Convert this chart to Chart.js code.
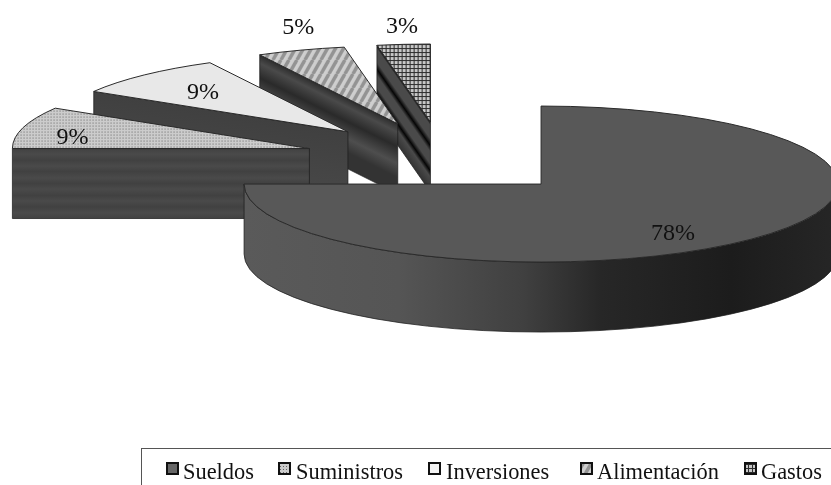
<!DOCTYPE html>
<html>
<head>
<meta charset="utf-8">
<title>Gastos</title>
<style>
    html, body { margin: 0; padding: 0; background: #fff; }
    canvas { display: block; }
</style>
<script src="https://cdn.jsdelivr.net/npm/chart.js@4"></script>
</head>
<body>
<canvas id="pie-gastos" width="831" height="485"></canvas>
<script>
const categorias = ['Sueldos', 'Suministros', 'Inversiones', 'Alimentación', 'Gastos'];
const porcentajes = [78, 9, 9, 5, 3];

// shape of the pie
const centro = { x: 443, y: 158.3 };
const radioX = 297;
const radioY = 78;
const altura = 70;
const separacion = 0.467;

// percent labels, relative to the tip of each slice (x = centre of text, y = baseline)
const etiquetaX = [132, -237, -145, -99.5, -28.5];
const etiquetaY = [56, -5, -33, -89.5, -89];

// legend layout
const leyendaX = [166, 278, 428, 580, 744];
const leyendaTextoX = [183, 296, 446, 597, 761];

function trama(w, h, pinta) {
    const c = document.createElement('canvas');
    c.width = w;
    c.height = h;
    pinta(c.getContext('2d'));
    return c.getContext('2d').createPattern(c, 'repeat');
}

function puntos() {
    return trama(3, 3, g => {
        g.fillStyle = '#cccccc';
        g.fillRect(0, 0, 3, 3);
        g.fillStyle = '#646464';
        g.fillRect(1, 1, 1, 1);
    });
}

function rayas() {
    return trama(8, 14, g => {
        g.fillStyle = '#cfcfcf';
        g.fillRect(0, 0, 8, 14);
        g.strokeStyle = '#939393';
        g.lineWidth = 3.5;
        [-8, 0, 8].forEach(o => {
            g.beginPath();
            g.moveTo(o, 14);
            g.lineTo(o + 8, 0);
            g.stroke();
        });
    });
}

function rejilla() {
    return trama(4, 4, g => {
        g.fillStyle = '#c8c8c8';
        g.fillRect(0, 0, 4, 4);
        g.fillStyle = '#2c2c2c';
        g.fillRect(0, 0, 4, 1);
        g.fillRect(0, 0, 1, 4);
    });
}

const tapas = ['#585858', puntos(), '#e8e8e8', rayas(), rejilla()];
const muestras = ['#666666', puntos(), '#f4f4f4', rayas(), rejilla()];

// shading of the straight side walls, 0 = top edge, 1 = bottom edge
const paredes = [
    null,
    [[0, '#424242'], [0.08, '#4a4a4a'], [0.17, '#414141'], [0.25, '#4a4a4a'], [0.33, '#414141'], [0.42, '#4a4a4a'],
     [0.5, '#414141'], [0.58, '#4a4a4a'], [0.67, '#414141'], [0.75, '#4a4a4a'], [0.83, '#414141'], [0.92, '#4a4a4a'], [1, '#414141']],
    [[0, '#404040'], [1, '#484848']],
    [[0, '#2e2e2e'], [0.12, '#4a4a4a'], [0.33, '#2a2a2a'], [0.57, '#4e4e4e'], [0.77, '#333333'], [1, '#333333']],
    [[0, '#101010'], [0.05, '#4a4a4a'], [0.24, '#4a4a4a'], [0.34, '#050505'], [0.43, '#4a4a4a'], [0.6, '#4a4a4a'], [0.7, '#050505'], [0.79, '#4a4a4a'], [1, '#333333']]
];

// outer wall of the big slice, left to right
const paredCurva = [[0, '#5a5a5a'], [0.26, '#555555'], [0.47, '#404040'], [0.6, '#272727'], [0.82, '#1c1c1c'], [1, '#262626']];

function rebanada(arc) {
    const medio = (arc.startAngle + arc.endAngle) / 2;
    return {
        a0: arc.startAngle,
        a1: arc.endAngle,
        x: centro.x + radioX * separacion * Math.cos(medio),
        y: centro.y + radioY * separacion * Math.sin(medio)
    };
}

function sobreElipse(r, a) {
    return { x: r.x + radioX * Math.cos(a), y: r.y + radioY * Math.sin(a) };
}

function gradiente(ctx, x0, y0, x1, y1, paradas) {
    const g = ctx.createLinearGradient(x0, y0, x1, y1);
    paradas.forEach(p => g.addColorStop(p[0], p[1]));
    return g;
}

function paredRecta(ctx, r, a, paradas) {
    const p = sobreElipse(r, a);
    const dx = p.x - r.x;
    const dy = p.y - r.y;
    const largo = Math.hypot(dx, dy);
    let nx = -dy / largo;
    let ny = dx / largo;
    if (ny < 0) { nx = -nx; ny = -ny; }
    const dist = altura * ny;
    ctx.beginPath();
    ctx.moveTo(r.x, r.y);
    ctx.lineTo(p.x, p.y);
    ctx.lineTo(p.x, p.y + altura);
    ctx.lineTo(r.x, r.y + altura);
    ctx.closePath();
    ctx.fillStyle = gradiente(ctx, r.x, r.y, r.x + nx * dist, r.y + ny * dist, paradas);
    ctx.fill();
    ctx.stroke();
}

function paredExterior(ctx, r, desde, hasta) {
    ctx.beginPath();
    ctx.ellipse(r.x, r.y, radioX, radioY, 0, desde, hasta);
    ctx.ellipse(r.x, r.y + altura, radioX, radioY, 0, hasta, desde, true);
    ctx.closePath();
    ctx.fillStyle = gradiente(ctx, r.x - radioX, 0, r.x + radioX, 0, paredCurva);
    ctx.fill();
    ctx.stroke();
}

// flattens the pie and gives each slice its walls, back slices first
const pie3d = {
    id: 'pie3d',
    beforeDatasetsDraw(chart) {
        const ctx = chart.ctx;
        const arcos = chart.getDatasetMeta(0).data;
        const sx = radioX / arcos[0].outerRadius;
        const sy = radioY / arcos[0].outerRadius;
        // keep the fill patterns at one pixel per pixel once the arc is squashed
        tapas.forEach(t => {
            if (t instanceof CanvasPattern) t.setTransform(new DOMMatrix([1 / sx, 0, 0, 1 / sy, 0, 0]));
        });

        for (let i = arcos.length - 1; i >= 0; i--) {
            const arc = arcos[i];
            const r = rebanada(arc);
            ctx.save();
            ctx.lineWidth = 1;
            ctx.strokeStyle = 'rgba(30,30,30,0.75)';
            if (Math.cos(r.a0) < -1e-6) paredRecta(ctx, r, r.a0, paredes[i]);
            if (Math.cos(r.a1) > 1e-6) paredRecta(ctx, r, r.a1, paredes[i]);
            const desde = Math.max(r.a0, 0);
            const hasta = Math.min(r.a1, Math.PI);
            if (desde < hasta) paredExterior(ctx, r, desde, hasta);
            ctx.restore();

            ctx.save();
            ctx.translate(r.x, r.y);
            ctx.scale(sx, sy);
            ctx.translate(-arc.x, -arc.y);
            arc.draw(ctx);
            ctx.restore();

            // outline in plain pixels so its width is even all the way round
            ctx.save();
            ctx.lineWidth = 1;
            ctx.strokeStyle = '#2a2a2a';
            ctx.beginPath();
            ctx.moveTo(r.x, r.y);
            ctx.ellipse(r.x, r.y, radioX, radioY, 0, r.a0, r.a1);
            ctx.closePath();
            ctx.stroke();
            ctx.restore();
        }
        return false;
    }
};

// percent labels on top of the slices
const etiquetas = {
    id: 'etiquetas',
    afterDraw(chart) {
        const ctx = chart.ctx;
        ctx.save();
        ctx.fillStyle = '#111';
        ctx.font = '24px "Liberation Serif"';
        ctx.textAlign = 'center';
        ctx.textBaseline = 'alphabetic';
        chart.getDatasetMeta(0).data.forEach((arc, i) => {
            const r = rebanada(arc);
            ctx.fillText(porcentajes[i] + '%', r.x + etiquetaX[i], r.y + etiquetaY[i]);
        });
        ctx.restore();
    }
};

// boxed legend along the bottom edge
const leyenda = {
    id: 'leyenda',
    afterDraw(chart) {
        const ctx = chart.ctx;
        ctx.save();
        ctx.strokeStyle = '#555';
        ctx.lineWidth = 1;
        ctx.strokeRect(141.5, 448.5, 800, 60);
        ctx.font = '22.4px "Liberation Serif"';
        ctx.textAlign = 'left';
        ctx.textBaseline = 'alphabetic';
        categorias.forEach((nombre, i) => {
            ctx.fillStyle = muestras[i];
            ctx.fillRect(leyendaX[i], 462, 13, 13);
            ctx.strokeStyle = '#111';
            ctx.lineWidth = 2;
            ctx.strokeRect(leyendaX[i] + 1, 463, 11, 11);
            ctx.fillStyle = '#111';
            ctx.fillText(nombre, leyendaTextoX[i], 479);
        });
        ctx.restore();
    }
};

new Chart(document.getElementById('pie-gastos').getContext('2d'), {
    type: 'pie',
    data: {
        labels: categorias,
        datasets: [{
            data: porcentajes,
            backgroundColor: tapas,
            borderWidth: 0
        }]
    },
    options: {
        responsive: false,
        animation: false,
        plugins: {
            legend: { display: false },
            tooltip: { enabled: false }
        }
    },
    plugins: [pie3d, etiquetas, leyenda]
});
</script>
</body>
</html>
